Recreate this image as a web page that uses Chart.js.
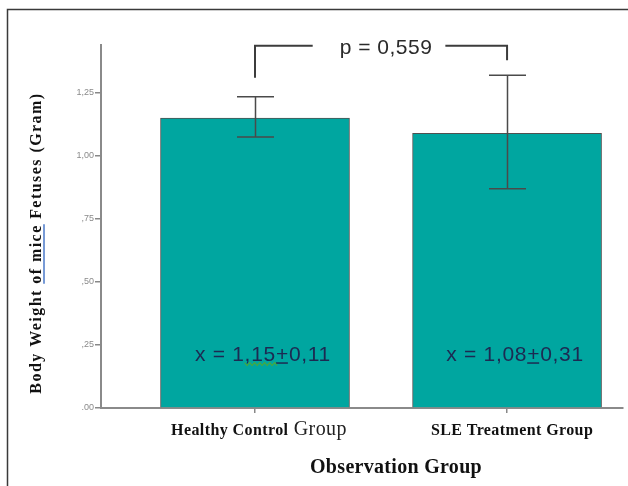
<!DOCTYPE html>
<html>
<head>
<meta charset="utf-8">
<script src="https://cdn.jsdelivr.net/npm/chart.js@4.4.1/dist/chart.umd.min.js"></script>
<style>
  html, body { margin: 0; padding: 0; background: #fff; }
  #wrap { position: relative; width: 628px; height: 486px; }
</style>
</head>
<body>
<div id="wrap"><canvas id="chart" width="628" height="486"></canvas></div>
<script>
// data
const groups = ['Healthy Control Group', 'SLE Treatment Group'];
const meanWeight = [1.15, 1.09];
const errLow = [1.075, 0.87];
const errHigh = [1.235, 1.32];
const meanLabels = ['x = 1,15+0,11', 'x = 1,08+0,31'];
const yTicks = [0, 0.25, 0.5, 0.75, 1.0, 1.25];
const yTickLabels = ['.00', ',25', ',50', ',75', '1,00', '1,25'];
const pText = 'p = 0,559';
const bracketLevels = [1.31, 1.437, 1.38]; // left foot, top, right foot
const yTitle = 'Body Weight of mice Fetuses (Gram)';
const xTitle = 'Observation Group';

const serif = '"Liberation Serif", "Times New Roman", serif';
const sans = '"Liberation Sans", Arial, sans-serif';

const overlay = {
  id: 'overlay',
  beforeDraw(chart) {
    const ctx = chart.ctx;
    ctx.save();
    ctx.strokeStyle = '#3a3a3a';
    ctx.lineWidth = 1.5;
    ctx.beginPath();
    ctx.moveTo(7.5, chart.height);
    ctx.lineTo(7.5, 9.5);
    ctx.lineTo(chart.width, 9.5);
    ctx.stroke();
    ctx.restore();
  },
  afterDatasetsDraw(chart) {
    const { ctx, scales: { x, y } } = chart;
    ctx.save();

    // error bars
    ctx.strokeStyle = '#4a4a4a';
    ctx.lineWidth = 1.5;
    groups.forEach((g, i) => {
      const px = Math.round(x.getPixelForValue(i)) + 0.5;
      const yh = y.getPixelForValue(errHigh[i]);
      const yl = y.getPixelForValue(errLow[i]);
      ctx.beginPath();
      ctx.moveTo(px, yh); ctx.lineTo(px, yl);
      ctx.moveTo(px - 18.5, yh); ctx.lineTo(px + 18.5, yh);
      ctx.moveTo(px - 18.5, yl); ctx.lineTo(px + 18.5, yl);
      ctx.stroke();
    });

    // significance bracket
    const x0 = x.getPixelForValue(0), x1 = x.getPixelForValue(1);
    const yTop = y.getPixelForValue(bracketLevels[1]);
    ctx.font = '21px ' + sans;
    ctx.letterSpacing = '0.5px';
    const tw = ctx.measureText(pText).width;
    const tc = (x0 + x1) / 2 + 5;
    ctx.strokeStyle = '#3c3c3c';
    ctx.lineWidth = 2;
    ctx.beginPath();
    ctx.moveTo(x0, y.getPixelForValue(bracketLevels[0]));
    ctx.lineTo(x0, yTop);
    ctx.lineTo(tc - tw / 2 - 27, yTop);
    ctx.moveTo(tc + tw / 2 + 13, yTop);
    ctx.lineTo(x1, yTop);
    ctx.lineTo(x1, y.getPixelForValue(bracketLevels[2]));
    ctx.stroke();
    ctx.fillStyle = '#2a2a2a';
    ctx.textAlign = 'left';
    ctx.textBaseline = 'middle';
    ctx.fillText(pText, tc - tw / 2, yTop + 2);

    // mean labels inside bars
    ctx.letterSpacing = '0.7px';
    ctx.fillStyle = '#1c2a52';
    ctx.textBaseline = 'alphabetic';
    meanLabels.forEach((t, i) => {
      const w = ctx.measureText(t).width;
      const left = x.getPixelForValue(i) + 8 - w / 2;
      const base = y.getPixelForValue(0.22) + 8;
      ctx.fillText(t, left, base);
      const k = t.indexOf('+');
      const ux = left + ctx.measureText(t.slice(0, k)).width;
      const uw = ctx.measureText('+').width - 1;
      ctx.strokeStyle = '#1c2a52';
      ctx.lineWidth = 1.5;
      ctx.beginPath();
      ctx.moveTo(ux, base + 2.5); ctx.lineTo(ux + uw, base + 2.5);
      ctx.stroke();
      if (i === 0) {
        // spell-check squiggle under "1,15"
        const sx = left + ctx.measureText(t.slice(0, 5)).width;
        const ex = left + ctx.measureText(t.slice(0, 8)).width + 3;
        ctx.strokeStyle = '#43a843';
        ctx.lineWidth = 1.2;
        ctx.beginPath();
        let up = true;
        for (let xx = sx; xx <= ex; xx += 2.5) {
          const yy = base + (up ? 2 : 5);
          if (xx === sx) ctx.moveTo(xx, yy); else ctx.lineTo(xx, yy);
          up = !up;
        }
        ctx.stroke();
      }
    });

    // category labels under the axis
    ctx.fillStyle = '#111';
    ctx.letterSpacing = '0.4px';
    groups.forEach((g, i) => {
      const cx = x.getPixelForValue(i) + (i === 0 ? 4 : 5);
      const base = 435;
      if (i === 0) {
        const cut = g.lastIndexOf(' ');
        const head = g.slice(0, cut), tail = g.slice(cut);
        ctx.font = 'bold 16px ' + serif;
        const hw = ctx.measureText(head).width;
        ctx.font = '20px ' + serif;
        const tlw = ctx.measureText(tail).width;
        const left = cx - (hw + tlw) / 2;
        ctx.font = 'bold 16px ' + serif;
        ctx.fillText(head, left, base);
        ctx.font = '20px ' + serif;
        ctx.fillStyle = '#222';
        ctx.fillText(tail, left + hw, base);
        ctx.fillStyle = '#111';
      } else {
        ctx.font = 'bold 16px ' + serif;
        const w = ctx.measureText(g).width;
        ctx.fillText(g, cx - w / 2, base);
      }
    });

    // y axis title with the blue underline
    ctx.save();
    ctx.translate(37, 243);
    ctx.rotate(-Math.PI / 2);
    ctx.font = 'bold 16px ' + serif;
    ctx.letterSpacing = '1.45px';
    ctx.fillStyle = '#111';
    ctx.textBaseline = 'middle';
    const fw = ctx.measureText(yTitle).width;
    ctx.fillText(yTitle, -fw / 2, 0);
    const ks = yTitle.indexOf('of');
    const us = -fw / 2 + ctx.measureText(yTitle.slice(0, ks)).width;
    const ue = -fw / 2 + ctx.measureText(yTitle.slice(0, yTitle.indexOf('mice') + 4)).width;
    ctx.strokeStyle = '#4a78c8';
    ctx.lineWidth = 1.5;
    ctx.beginPath();
    ctx.moveTo(us, 7); ctx.lineTo(ue, 7);
    ctx.stroke();
    ctx.restore();

    // x axis title
    ctx.font = 'bold 20px ' + serif;
    ctx.letterSpacing = '0.3px';
    ctx.fillStyle = '#111';
    ctx.textBaseline = 'middle';
    const xw = ctx.measureText(xTitle).width;
    ctx.fillText(xTitle, 396 - xw / 2, 468);

    ctx.restore();
  }
};

new Chart(document.getElementById('chart'), {
  type: 'bar',
  data: {
    datasets: [{
      data: groups.map((g, i) => ({ x: i, y: meanWeight[i] })),
      backgroundColor: '#00a6a0',
      borderColor: '#505050',
      borderWidth: 1,
      borderSkipped: 'start',
      barThickness: 189
    }]
  },
  options: {
    responsive: false,
    animation: false,
    layout: { padding: { left: 0, top: 45, right: 5, bottom: 0 } },
    plugins: { legend: { display: false }, tooltip: { enabled: false } },
    scales: {
      x: {
        type: 'linear',
        offset: false,
        min: -0.611,
        max: 1.46,
        afterBuildTicks: s => { s.ticks = groups.map((g, i) => ({ value: i })); },
        afterFit: s => { s.height = 78; },
        ticks: { display: false },
        grid: { offset: false, drawOnChartArea: false, tickLength: 5, color: '#888', lineWidth: 1.5 },
        border: { color: '#8a8a8a', width: 2 }
      },
      y: {
        min: 0,
        max: 1.44,
        afterBuildTicks: s => { s.ticks = yTicks.map(v => ({ value: v })); },
        afterFit: s => { s.width = 101; },
        ticks: {
          callback: (v, i) => yTickLabels[i],
          font: { family: sans, size: 9 },
          color: '#8a8a8a',
          padding: 1
        },
        grid: { drawOnChartArea: false, tickLength: 6, color: '#888', lineWidth: 1.5 },
        border: { color: '#8a8a8a', width: 2 }
      }
    }
  },
  plugins: [overlay]
});
</script>
</body>
</html>
